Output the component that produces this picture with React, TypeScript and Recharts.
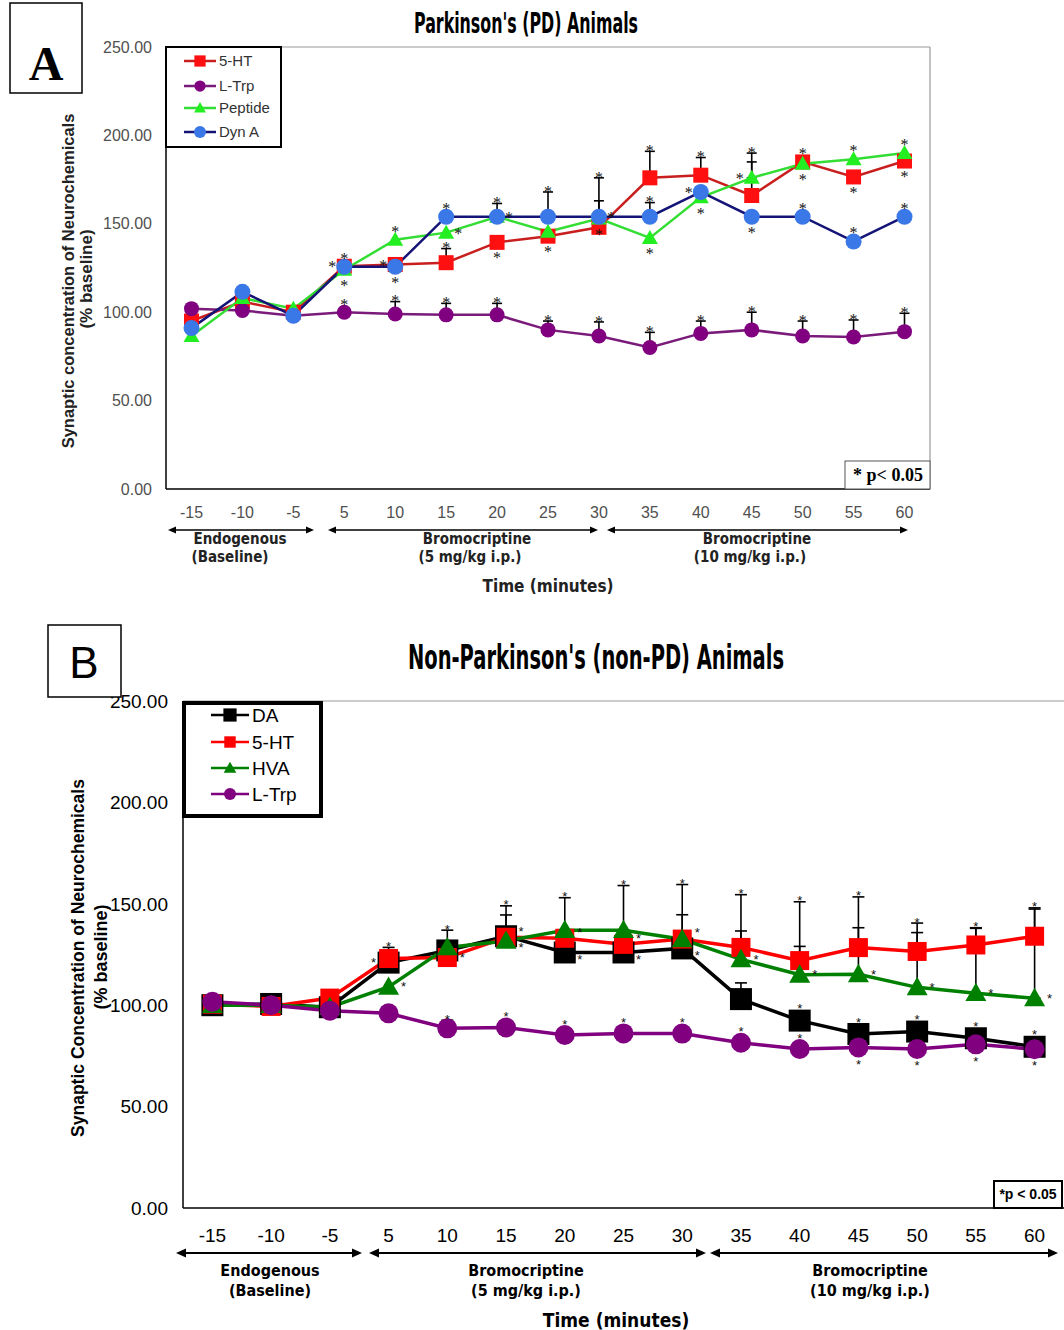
import React from 'react';
import { LineChart, Line, XAxis, YAxis, ErrorBar, LabelList } from 'recharts';

// shared x categories (minutes) and y ticks
const times = ['-15', '-10', '-5', '5', '10', '15', '20', '25', '30', '35', '40', '45', '50', '55', '60'];
const yTicks = [0, 50, 100, 150, 200, 250];

// Panel A - Parkinson's (PD) animals, % baseline
const pd5HT = [95, 106, 100, 126, 127, 128, 139.5, 143, 148, 176, 177.5, 166, 185, 176.5, 185.5];
const pdLTrp = [102, 101, 98, 100, 99, 98.5, 98.5, 90, 86.5, 80, 88, 90, 86.5, 86, 89];
const pdPeptide = [86.5, 108, 102, 124, 141, 145, 154, 145.5, 153, 142, 165, 176, 184, 186.5, 190];
const pdDynA = [91, 111.5, 98, 125.7, 125.7, 154, 154, 154, 154, 154, 168, 154, 154, 140, 154];

// upper error (SEM) per point, 0 = no bar
const pd5HTErr = [0, 0, 0, 0, 0, 8, 0, 0, 28, 15, 10, 24, 0, 0, 0];
const pdLTrpErr = [0, 0, 0, 0, 7, 6.5, 6.5, 5, 8, 8.6, 7, 10, 8.5, 9.6, 10.4];
const pdPeptideErr = [0, 0, 0, 0, 0, 0, 0, 0, 0, 0, 0, 9, 0, 0, 0];
const pdDynAErr = [0, 0, 0, 0, 0, 0, 7.5, 14, 9, 8, 0, 0, 0, 0, 0];

// significance marks: a = above, b = below, r = right, u = upper right, d = lower right, l = left, . = none
const pd5HTStars = '...llabbaaaaabb';
const pdLTrpStars = '...aaaaaaaaaaaa';
const pdPeptideStars = '...barr.bbblbaa';
const pdDynAStars = '...abaaaralbaaa';

// Panel B - Non-Parkinson's (non-PD) animals, % baseline
const npDA = [100, 100.6, 99, 121, 127, 134, 126, 126, 128, 103, 92.4, 85.8, 87, 83.7, 79.5];
const np5HT = [100.5, 99.4, 103.5, 123, 123.5, 133.5, 133, 130, 132.6, 128.5, 122, 128.4, 126.5, 129.7, 134];
const npHVA = [100, 100, 99, 109, 128.5, 131.7, 137, 137, 132.5, 122.6, 115, 115.2, 108.8, 105.9, 103.4];
const npLTrp = [101.7, 100, 97.3, 96, 88.6, 89, 85.3, 86.1, 86, 81.5, 78.4, 79.2, 78.4, 80.7, 78.3];

const npDAErr = [0, 0, 0, 0, 0, 15, 0, 0, 0, 8, 0, 0, 0, 0, 0];
const np5HTErr = [0, 0, 0, 5.5, 0, 11, 0, 0, 12, 26, 29, 25, 14, 8.5, 14];
const npHVAErr = [0, 0, 0, 0, 8.5, 0, 16, 22, 27, 14, 14, 23, 27, 32, 44];
const npLTrpErr = [0, 0, 0, 0, 4, 0, 0, 0, 0, 0, 0, 0, 0, 0, 0];

const npDAStars = '...l.addd.aaaaa';
const np5HTStars = '...aruuuuaaaaaa';
const npHVAStars = '...radaaarrrrrr';
const npLTrpStars = '....aaaaaaabbbb';

type Shape = 'square' | 'circle' | 'triangle';
interface Series {
  key: string;
  name: string;
  values: number[];
  err: number[];
  stars: string;
  line: string;
  fill: string;
  shape: Shape;
  size: number;
}

const pdSeries: Series[] = [
  { key: 'ht', name: '5-HT', values: pd5HT, err: pd5HTErr, stars: pd5HTStars, line: '#c81e1e', fill: '#ff1010', shape: 'square', size: 15 },
  { key: 'trp', name: 'L-Trp', values: pdLTrp, err: pdLTrpErr, stars: pdLTrpStars, line: '#7a1a7a', fill: '#800080', shape: 'circle', size: 15 },
  { key: 'pep', name: 'Peptide', values: pdPeptide, err: pdPeptideErr, stars: pdPeptideStars, line: '#33dd33', fill: '#22ee22', shape: 'triangle', size: 16 },
  { key: 'dyn', name: 'Dyn A', values: pdDynA, err: pdDynAErr, stars: pdDynAStars, line: '#141478', fill: '#3b78e7', shape: 'circle', size: 16 },
];

const npSeries: Series[] = [
  { key: 'da', name: 'DA', values: npDA, err: npDAErr, stars: npDAStars, line: '#000000', fill: '#000000', shape: 'square', size: 22 },
  { key: 'ht', name: '5-HT', values: np5HT, err: np5HTErr, stars: np5HTStars, line: '#ff0000', fill: '#ff0000', shape: 'square', size: 19 },
  { key: 'hva', name: 'HVA', values: npHVA, err: npHVAErr, stars: npHVAStars, line: '#008000', fill: '#008000', shape: 'triangle', size: 21 },
  { key: 'trp', name: 'L-Trp', values: npLTrp, err: npLTrpErr, stars: npLTrpStars, line: '#800080', fill: '#800080', shape: 'circle', size: 20 },
];

function buildRows(series: Series[]) {
  return times.map((t, i) => {
    const row: Record<string, any> = { t };
    series.forEach(s => {
      row[s.key] = s.values[i];
      row[s.key + 'Err'] = s.err[i] > 0 ? [0, s.err[i]] : null;
      row[s.key + 'Top'] = s.values[i] + s.err[i];
    });
    return row;
  });
}

function Marker({ shape, cx, cy, size, fill }: { shape: Shape; cx: number; cy: number; size: number; fill: string }) {
  const h = size / 2;
  if (shape === 'square') return <rect x={cx - h} y={cy - h} width={size} height={size} fill={fill} />;
  if (shape === 'circle') return <circle cx={cx} cy={cy} r={h} fill={fill} />;
  return <polygon points={`${cx},${cy - h} ${cx + h},${cy + h * 0.75} ${cx - h},${cy + h * 0.75}`} fill={fill} />;
}

interface PanelProps {
  series: Series[];
  width: number;
  height: number;
  margin: { top: number; right: number; bottom: number; left: number };
  yWidth: number;
  xHeight: number;
  pad: number;
  tick: Record<string, any>;
  yTickMargin: number;
  xTickMargin: number;
  lineWidth: number;
  capWidth: number;
  starSize: number;
  starGap: number;
  starFont: string;
}

function Panel(p: PanelProps) {
  const rows = buildRows(p.series);
  const star = (s: Series, mode: 'top' | 'side') => (lp: any) => {
    const i = lp.index;
    const c = s.stars[i];
    if (lp.x == null || lp.y == null || c === '.' || c === undefined) return null;
    const half = s.size / 2;
    const fs = p.starSize;
    let x = lp.x;
    let y = lp.y;
    if (mode === 'top') {
      if (c !== 'a') return null;
      const off = s.err[i] > 0 ? 2 : half + 2;
      y = lp.y - off + 0.43 * fs;
    } else {
      if (c === 'a') return null;
      const mid = lp.y + 0.57 * fs - 3;
      if (c === 'b') y = lp.y + half + 2 + 0.71 * fs;
      if (c === 'r') { x = lp.x + p.starGap; y = mid; }
      if (c === 'u') { x = lp.x + p.starGap; y = mid - 6; }
      if (c === 'd') { x = lp.x + p.starGap; y = mid + 7; }
      if (c === 'l') { x = lp.x - p.starGap; y = mid; }
    }
    return (
      <text
        key={`st-${s.key}-${mode}-${i}`}
        x={x}
        y={y}
        textAnchor="middle"
        fontSize={fs}
        fontFamily={p.starFont}
        fill="#111"
        stroke="none"
        style={{ fill: '#111' }}
      >
        *
      </text>
    );
  };

  return (
    <LineChart width={p.width} height={p.height} data={rows} margin={p.margin}>
      <XAxis
        dataKey="t"
        padding={{ left: p.pad, right: p.pad }}
        axisLine={{ stroke: '#000', strokeWidth: 1.5 }}
        tickLine={false}
        tick={p.tick}
        tickMargin={p.xTickMargin}
        interval={0}
        height={p.xHeight}
      />
      <YAxis
        domain={[0, 250]}
        ticks={yTicks}
        tickFormatter={(v: number) => v.toFixed(2)}
        axisLine={{ stroke: '#000', strokeWidth: 1.5 }}
        tickLine={false}
        tick={p.tick}
        tickMargin={p.yTickMargin}
        width={p.yWidth}
      />
      {p.series.map(s => (
        <Line
          key={s.key + 'Line'}
          dataKey={s.key}
          stroke={s.line}
          strokeWidth={p.lineWidth}
          dot={false}
          activeDot={false}
          isAnimationActive={false}
          legendType="none"
        >
          <ErrorBar dataKey={s.key + 'Err'} direction="y" width={p.capWidth} stroke="#000" strokeWidth={1.6} />
        </Line>
      ))}
      {p.series.map(s => (
        <Line
          key={s.key + 'Dots'}
          dataKey={s.key}
          stroke="none"
          dot={(dp: any) =>
            dp.cx == null ? <g key={`d-${s.key}-${dp.index}`} /> : (
              <Marker key={`d-${s.key}-${dp.index}`} shape={s.shape} cx={dp.cx} cy={dp.cy} size={s.size} fill={s.fill} />
            )
          }
          activeDot={false}
          isAnimationActive={false}
          legendType="none"
        >
          <LabelList dataKey={s.key} content={star(s, 'side')} />
        </Line>
      ))}
      {p.series.map(s => (
        <Line
          key={s.key + 'Top'}
          dataKey={s.key + 'Top'}
          stroke="none"
          dot={false}
          activeDot={false}
          isAnimationActive={false}
          legendType="none"
        >
          <LabelList dataKey={s.key + 'Top'} content={star(s, 'top')} />
        </Line>
      ))}
    </LineChart>
  );
}

const narrow = "'Liberation Sans Narrow', 'DejaVu Sans Condensed', 'Arial Narrow', sans-serif";
const arial = "'Liberation Sans', Arial, sans-serif";

function Arrow({ x1, x2, y, head, sw }: { x1: number; x2: number; y: number; head: number; sw: number }) {
  return (
    <g>
      <line x1={x1 + head * 0.5} x2={x2 - head * 0.5} y1={y} y2={y} stroke="#000" strokeWidth={sw} />
      <polygon points={`${x1},${y} ${x1 + head},${y - head * 0.45} ${x1 + head},${y + head * 0.45}`} fill="#000" />
      <polygon points={`${x2},${y} ${x2 - head},${y - head * 0.45} ${x2 - head},${y + head * 0.45}`} fill="#000" />
    </g>
  );
}

function LegendBox({ series, x, y, w, h, rows, lineX1, lineX2, textX, fontSize, border, scale }: {
  series: Series[]; x: number; y: number; w: number; h: number; rows: number[];
  lineX1: number; lineX2: number; textX: number; fontSize: number; border: number; scale: number;
}) {
  return (
    <g>
      <rect x={x} y={y} width={w} height={h} fill="#fff" stroke="#000" strokeWidth={border} />
      {series.map((s, i) => (
        <g key={s.key}>
          <line x1={lineX1} x2={lineX2} y1={rows[i]} y2={rows[i]} stroke={s.line} strokeWidth={2.5} />
          <Marker shape={s.shape} cx={(lineX1 + lineX2) / 2} cy={rows[i]} size={s.size * scale} fill={s.fill} />
          <text x={textX} y={rows[i] + fontSize * 0.36} fontSize={fontSize} fontFamily={arial} fill={fontSize < 17 ? '#333' : '#000'}>
            {s.name}
          </text>
        </g>
      ))}
    </g>
  );
}

export default function App() {
  return (
    <div style={{ position: 'absolute', left: 0, top: 0, width: 1064, height: 1330, background: '#fff', overflow: 'hidden' }}>
      <div style={{ position: 'absolute', left: 0, top: 0 }}>
        <Panel
          series={pdSeries}
          width={1064}
          height={600}
          margin={{ top: 47, right: 134, bottom: 81, left: 66 }}
          yWidth={100}
          xHeight={30}
          pad={25.5}
          tick={{ fontSize: 16, fill: '#505050', fontFamily: arial }}
          yTickMargin={8}
          xTickMargin={12}
          lineWidth={2.5}
          capWidth={5}
          starSize={16}
          starGap={12}
          starFont="'Liberation Serif', serif"
        />
      </div>
      <div style={{ position: 'absolute', left: 0, top: 600 }}>
        <Panel
          series={npSeries}
          width={1064}
          height={730}
          margin={{ top: 101, right: 0, bottom: 82, left: 63 }}
          yWidth={120}
          xHeight={40}
          pad={29.4}
          tick={{ fontSize: 19, fill: '#000', fontFamily: arial }}
          yTickMargin={9}
          xTickMargin={15}
          lineWidth={3.5}
          capWidth={6}
          starSize={13}
          starGap={15}
          starFont={arial}
        />
      </div>
      <svg width={1064} height={1330} style={{ position: 'absolute', left: 0, top: 0, pointerEvents: 'none' }}>
        {/* Panel A frame extras */}
        <line x1={166} x2={930} y1={47} y2={47} stroke="#999" strokeWidth={1.2} />
        <line x1={930} x2={930} y1={47} y2={489} stroke="#999" strokeWidth={1.2} />
        <rect x={10} y={3} width={72} height={90} fill="#fff" stroke="#000" strokeWidth={1.5} />
        <text x={46} y={80} textAnchor="middle" fontSize={48} fontWeight="bold" fontFamily="'Liberation Serif', serif">A</text>
        <text x={526} y={33} textAnchor="middle" fontSize={28} fontWeight="bold" fontFamily={narrow} textLength={224} lengthAdjust="spacingAndGlyphs">
          Parkinson's (PD) Animals
        </text>
        <LegendBox series={pdSeries} x={166} y={47} w={115} h={100} rows={[61, 86, 108, 132]} lineX1={184} lineX2={216} textX={219} fontSize={15} border={2} scale={0.75} />
        <rect x={845} y={461} width={85} height={28} fill="#fff" stroke="#555" strokeWidth={1} />
        <text x={888} y={481} textAnchor="middle" fontSize={18} fontWeight="bold" fontFamily="'Liberation Serif', serif">* p&lt; 0.05</text>
        <g transform="translate(74,281) rotate(-90)">
          <text textAnchor="middle" fontSize={16.5} fontWeight="bold" fontFamily={arial} fill="#222">Synaptic concentration of Neurochemicals</text>
        </g>
        <g transform="translate(92,279) rotate(-90)">
          <text textAnchor="middle" fontSize={17} fontWeight="bold" fontFamily={arial} fill="#222">(% baseline)</text>
        </g>
        <Arrow x1={168} x2={314} y={530} head={8} sw={1.5} />
        <Arrow x1={328} x2={598} y={530} head={8} sw={1.5} />
        <Arrow x1={607} x2={908} y={530} head={8} sw={1.5} />
        <g fontFamily={narrow} fontWeight="bold" fontSize={15} fill="#222" textAnchor="middle">
          <text x={240} y={544}>Endogenous</text>
          <text x={230} y={562}>(Baseline)</text>
          <text x={477} y={544}>Bromocriptine</text>
          <text x={470} y={562}>(5 mg/kg i.p.)</text>
          <text x={757} y={544}>Bromocriptine</text>
          <text x={750} y={562}>(10 mg/kg i.p.)</text>
          <text x={548} y={592} fontSize={17}>Time (minutes)</text>
        </g>

        {/* Panel B extras */}
        <line x1={183} x2={1064} y1={701} y2={701} stroke="#999" strokeWidth={1.2} />
        <rect x={48} y={625} width={73} height={72} fill="#fff" stroke="#000" strokeWidth={1.5} />
        <text x={84} y={678} textAnchor="middle" fontSize={44} fontFamily={arial}>B</text>
        <text x={596} y={669} textAnchor="middle" fontSize={34} fontWeight="bold" fontFamily={narrow} textLength={376} lengthAdjust="spacingAndGlyphs">
          Non-Parkinson's (non-PD) Animals
        </text>
        <LegendBox series={npSeries} x={184} y={703} w={137} h={113} rows={[715, 742, 768, 794]} lineX1={211} lineX2={249} textX={252} fontSize={19} border={4} scale={0.6} />
        <rect x={994} y={1181} width={68} height={27} fill="#fff" stroke="#000" strokeWidth={2} />
        <text x={1028} y={1199} textAnchor="middle" fontSize={14} fontWeight="bold" fontFamily={arial}>*p &lt; 0.05</text>
        <g transform="translate(84,958) rotate(-90)">
          <text textAnchor="middle" fontSize={17.5} fontWeight="bold" fontFamily={arial}>Synaptic Concentration of Neurochemicals</text>
        </g>
        <g transform="translate(107,957) rotate(-90)">
          <text textAnchor="middle" fontSize={18} fontWeight="bold" fontFamily={arial}>(% baseline)</text>
        </g>
        <Arrow x1={176} x2={362} y={1253} head={10} sw={2} />
        <Arrow x1={369} x2={706} y={1253} head={10} sw={2} />
        <Arrow x1={710} x2={1058} y={1253} head={10} sw={2} />
        <g fontFamily={narrow} fontWeight="bold" fontSize={16} fill="#000" textAnchor="middle">
          <text x={270} y={1276}>Endogenous</text>
          <text x={270} y={1296}>(Baseline)</text>
          <text x={526} y={1276}>Bromocriptine</text>
          <text x={526} y={1296}>(5 mg/kg i.p.)</text>
          <text x={870} y={1276}>Bromocriptine</text>
          <text x={870} y={1296}>(10 mg/kg i.p.)</text>
          <text x={616} y={1327} fontSize={19}>Time (minutes)</text>
        </g>
      </svg>
    </div>
  );
}
